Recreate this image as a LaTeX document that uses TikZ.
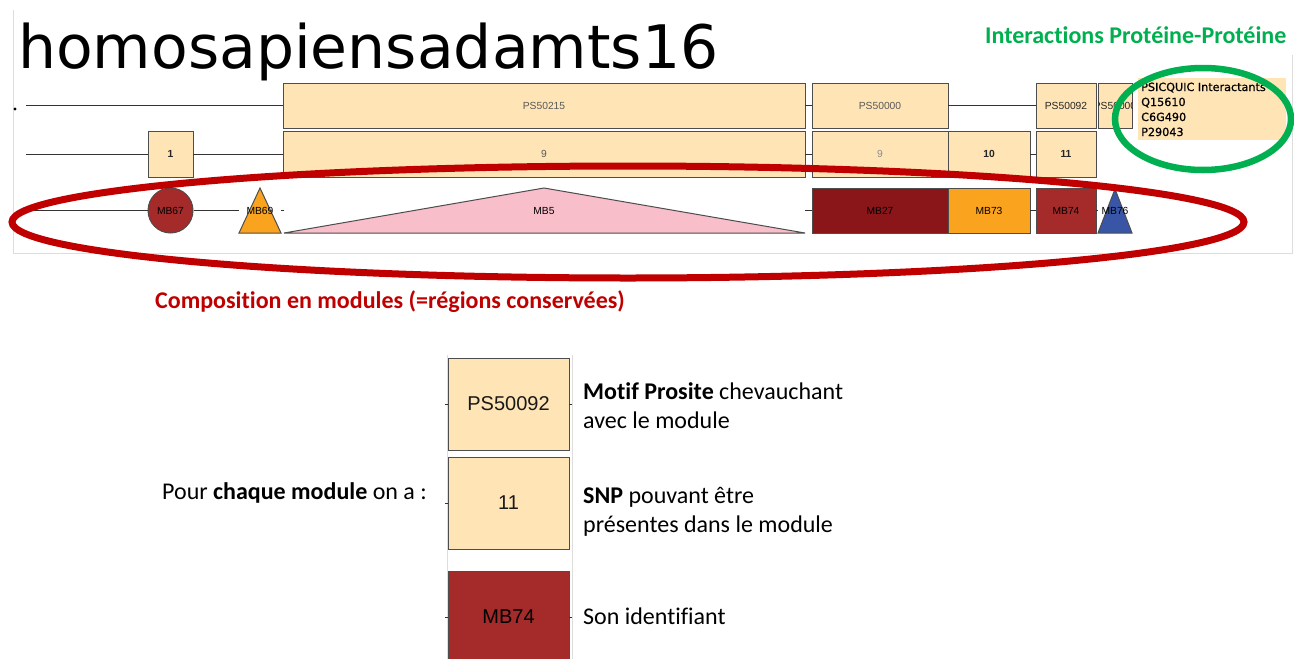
\documentclass[tikz,border=0pt]{standalone}
\usepackage{fontspec}
\setmainfont{Carlito}[Ligatures=NoCommon]
\newfontfamily\djv{DejaVu Sans}
\newfontfamily\djvfb{DejaVu Sans}[FakeBold=0.9]
\newfontfamily\arl{Liberation Sans}
\usetikzlibrary{shapes.geometric}
\definecolor{moc}{HTML}{FFE4B5}
\definecolor{brn}{HTML}{A52A2A}
\definecolor{dkred}{HTML}{8A161A}
\definecolor{orng}{HTML}{F9A31E}
\definecolor{pnk}{HTML}{F8BECA}
\definecolor{blu}{HTML}{3855A6}
\definecolor{bord}{HTML}{4D4D4D}
\definecolor{slidered}{HTML}{C00000}
\definecolor{slidegreen}{HTML}{00B050}
\definecolor{edgegray}{HTML}{DDDDDD}
\tikzset{
  box/.style={draw=bord, line width=1pt, fill=moc, inner sep=0pt, outer sep=0pt,
    font=\arl\fontsize{10.3}{12}\selectfont, text=black!85},
  modbox/.style={box, fill=#1, text=black},
  tri/.style={draw=bord, line width=1pt},
  lbl/.style={inner sep=0pt, font=\arl\fontsize{10.3}{12}\selectfont, text=black},
  bb/.style={draw=black!80, line width=0.8pt},
  shot/.style={draw=edgegray, line width=0.8pt},
  txt/.style={anchor=base west, inner sep=0pt, font=\fontsize{24}{28}\selectfont},
  psqtxt/.style={anchor=base west, inner sep=0pt, font=\djvfb\fontsize{11.2}{14}\selectfont},
  ring/.style={ellipse, draw=#1, inner sep=0pt, fill=none},
  legbox/.style={box, font=\arl\fontsize{20}{22}\selectfont, text=black!90}
}
\begin{document}
\begin{tikzpicture}[x=1pt,y=-1pt]
\useasboundingbox (0,0) rectangle (1294,659);
\clip (0,0) rectangle (1294,659);
\fill[white] (0,0) rectangle (1294,659);
% screenshot borders
\draw[shot] (13,10) -- (13,253) -- (1292,253) -- (1292,55);
\draw[shot] (447,355) -- (447,659);
\draw[shot] (572,355) -- (572,659);

% title
\node[anchor=base west, inner sep=0pt, font=\djv\fontsize{60}{60}\selectfont] (title) at (18,68) {homosapiensadamts16};

% row 1
\coordinate (r1) at (26,105.5);
\node[box, minimum width=522, minimum height=45, text=black!65] (ps215) at (544,105.5) {PS50215};
\node[box, minimum width=136, minimum height=45, text=black!65] (ps000) at (880,105.5) {PS50000};
\node[box, minimum width=60, minimum height=45] (ps092) at (1066,105.5) {PS50092};
\node[box, minimum width=34, minimum height=45] (psx) at (1115,105.5) {};
\begin{scope}
\clip (psx.south west) rectangle (psx.north east);
\node[lbl, text=black!85] (psxl) at (psx.center) {PS50000};
\end{scope}
\draw[bb] (r1) -- (ps215.west);
\draw[bb] (ps215.east) -- (ps000.west);
\draw[bb] (ps000.east) -- (ps092.west);
\fill[black] (15,109) circle (1.6);

% row 2
\coordinate (r2) at (26,154);
\node[box, minimum width=45, minimum height=46, font=\arl\bfseries\fontsize{10.3}{12}\selectfont] (s1) at (170.5,154) {1};
\node[box, minimum width=522, minimum height=46, text=black!65] (s9a) at (544,154) {9};
\node[box, minimum width=136, minimum height=46, text=black!45] (s9b) at (880,154) {9};
\node[box, minimum width=82, minimum height=46, font=\arl\bfseries\fontsize{10.3}{12}\selectfont] (s10) at (989,154) {10};
\node[box, minimum width=60, minimum height=46, font=\arl\bfseries\fontsize{10.3}{12}\selectfont] (s11) at (1066,154) {11};
\draw[bb] (r2) -- (s1.west);
\draw[bb] (s1.east) -- (s9a.west);
\draw[bb] (s9a.east) -- (s9b.west);
\draw[bb] (s10.east) -- (s11.west);

% row 3
\coordinate (r3) at (26,210.5);
\node[circle, draw=bord, line width=1pt, fill=brn, minimum size=45, inner sep=0pt, font=\arl\fontsize{10.3}{12}\selectfont] (mb67) at (170.5,210.5) {MB67};
\coordinate (t69a) at (239,233); \coordinate (t69b) at (281,233); \coordinate (t69c) at (260,188);
\draw[tri, fill=orng] (t69a) -- (t69c) -- (t69b) -- cycle;
\node[lbl] (mb69) at (260,211) {MB69};
\coordinate (w69) at (239,210.5); \coordinate (e69) at (281,210.5);
\coordinate (t5a) at (284,233); \coordinate (t5b) at (805,233); \coordinate (t5c) at (544,188);
\draw[tri, fill=pnk] (t5a) -- (t5c) -- (t5b) -- cycle;
\node[lbl] (mb5) at (544,211) {MB5};
\coordinate (w5) at (284,210.5); \coordinate (e5) at (805,210.5);
\node[modbox=dkred, minimum width=136, minimum height=45] (mb27) at (880,210.5) {MB27};
\node[modbox=orng, minimum width=82, minimum height=45] (mb73) at (989,210.5) {MB73};
\node[modbox=brn, minimum width=60, minimum height=45] (mb74) at (1066,210.5) {MB74};
\coordinate (t76a) at (1098,233); \coordinate (t76b) at (1132,233); \coordinate (t76c) at (1115,189);
\draw[tri, fill=blu] (t76a) -- (t76c) -- (t76b) -- cycle;
\node[lbl] (mb76) at (1115,211) {MB76};
\coordinate (w76) at (1098,210.5);
\draw[bb] (r3) -- (mb67.west);
\draw[bb] (mb67.east) -- (w69);
\draw[bb] (e69) -- (w5);
\draw[bb] (e5) -- (mb27.west);
\draw[bb] (mb73.east) -- (mb74.west);
\draw[bb] (mb74.east) -- (w76);

% PSICQUIC
\node[fill=moc, minimum width=148, minimum height=62, inner sep=0pt] (psq) at (1212,109) {};
\node[psqtxt] (psq1) at (1141,91) {PSICQUIC Interactants};
\node[psqtxt] (psq2) at (1141,106) {Q15610};
\node[psqtxt] (psq3) at (1141,121) {C6G490};
\node[psqtxt] (psq4) at (1141,136) {P29043};

% rings
\node[ring=slidered, line width=7pt, minimum width=1232, minimum height=112] (redring) at (628,222) {};
\node[ring=slidegreen, line width=6.5pt, minimum width=176, minimum height=102] (greenring) at (1203,119) {};

% slide texts
\node[anchor=base west, inner sep=0pt, text=slidegreen, font=\bfseries\fontsize{24}{26}\selectfont] (ppi) at (985,43) {Interactions Protéine-Protéine};
\node[anchor=base west, inner sep=0pt, text=slidered, font=\bfseries\fontsize{24}{26}\selectfont] (comp) at (155,308) {Composition en modules (=régions conservées)};

% legend
\node[legbox, minimum width=121, minimum height=92] (lps) at (508.5,404) {PS50092};
\node[legbox, minimum width=121, minimum height=92] (l11) at (508.5,503) {11};
\node[legbox, fill=brn, text=black, minimum width=121, minimum height=92] (lmb) at (508.5,617) {MB74};
\draw[bb] (lps.west) -- ++(-3,0);
\draw[bb] (lps.east) -- ++(3,0);
\draw[bb] (l11.west) -- ++(-3,0);
\draw[bb] (lmb.west) -- ++(-3,0);
\draw[bb] (lmb.east) -- ++(3,0);

\node[txt] (pour) at (162,499) {Pour \textbf{chaque module} on a :};
\node[txt] (mot1) at (583,399) {\textbf{Motif Prosite} chevauchant};
\node[txt] (mot2) at (583,428) {avec le module};
\node[txt] (snp1) at (583,503) {\textbf{SNP} pouvant être};
\node[txt] (snp2) at (583,532) {présentes dans le module};
\node[txt] (son) at (583,624) {Son identifiant};
\end{tikzpicture}
\end{document}
